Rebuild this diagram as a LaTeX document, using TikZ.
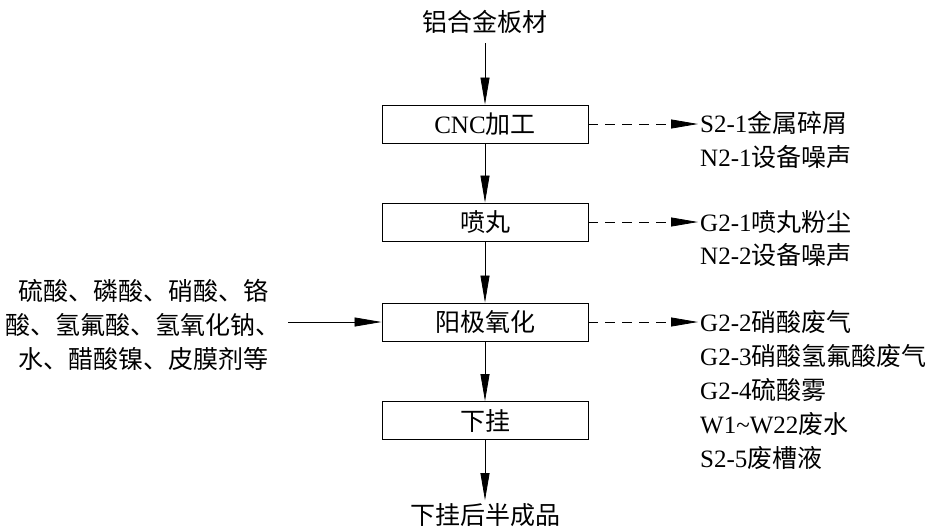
\documentclass[tikz,border=0pt]{standalone}
\usepackage{fontspec}
\setmainfont{Liberation Serif}
\newfontfamily\cjk{Noto Sans CJK SC}
\usetikzlibrary{arrows.meta}
\begin{document}
\begin{tikzpicture}[x=1pt,y=-1pt,
  font=\fontsize{25}{34}\selectfont,
  proc/.style={draw, line width=0.9pt, minimum width=206pt, minimum height=38pt, inner sep=0pt},
  arr/.style={-{Triangle[length=27pt,width=9pt]}, line width=0.8pt},
  darr/.style={arr, dash pattern=on 10pt off 7pt},
  rt/.style={anchor=west, inner sep=2pt}]
\useasboundingbox (0,0) rectangle (941,528);
\node (src) at (485,22) {\cjk 铝合金板材};
\node[proc] (cnc) at (485,124) {CNC{\cjk 加工}};
\node[proc] (pw) at (485,222) {\cjk 喷丸};
\node[proc] (yj) at (485,322) {\cjk 阳极氧化};
\node[proc] (xg) at (485,420.5) {\cjk 下挂};
\node[inner sep=1pt] (out) at (485,515) {\cjk 下挂后半成品};
\draw[arr, shorten <=6pt] (src) -- (cnc);
\draw[arr] (cnc) -- (pw);
\draw[arr] (pw) -- (yj);
\draw[arr] (yj) -- (xg);
\draw[arr, shorten >=2pt] (xg) -- (out);
% right outputs
\node[rt] (r1) at (698,123) {S2-1{\cjk 金属碎屑}};
\node[rt] (r1b) at (698,157) {N2-1{\cjk 设备噪声}};
\node[rt] (r2) at (698,222) {G2-1{\cjk 喷丸粉尘}};
\node[rt] (r2b) at (698,255) {N2-2{\cjk 设备噪声}};
\node[rt] (r3) at (698,322) {G2-2{\cjk 硝酸废气}};
\node[rt] (r3b) at (698,356) {G2-3{\cjk 硝酸氢氟酸废气}};
\node[rt] (r3c) at (698,390) {G2-4{\cjk 硫酸雾}};
\node[rt] (r3d) at (698,424) {W1{\char"7E}W22{\cjk 废水}};
\node[rt] (r3e) at (698,458) {S2-5{\cjk 废槽液}};
\draw[darr] (cnc.east) -- (cnc.east -| r1.west);
\draw[darr] (pw.east) -- (pw.east -| r2.west);
\draw[darr] (yj.east) -- (yj.east -| r3.west);
% left input
\node[align=center] (inp) at (143,325) {\cjk 硫酸、磷酸、硝酸、铬\\\cjk 酸、氢氟酸、氢氧化钠、\\\cjk 水、醋酸镍、皮膜剂等};
\draw[arr, shorten <=4pt] (inp.east |- yj.west) -- (yj.west);
\end{tikzpicture}
\end{document}
